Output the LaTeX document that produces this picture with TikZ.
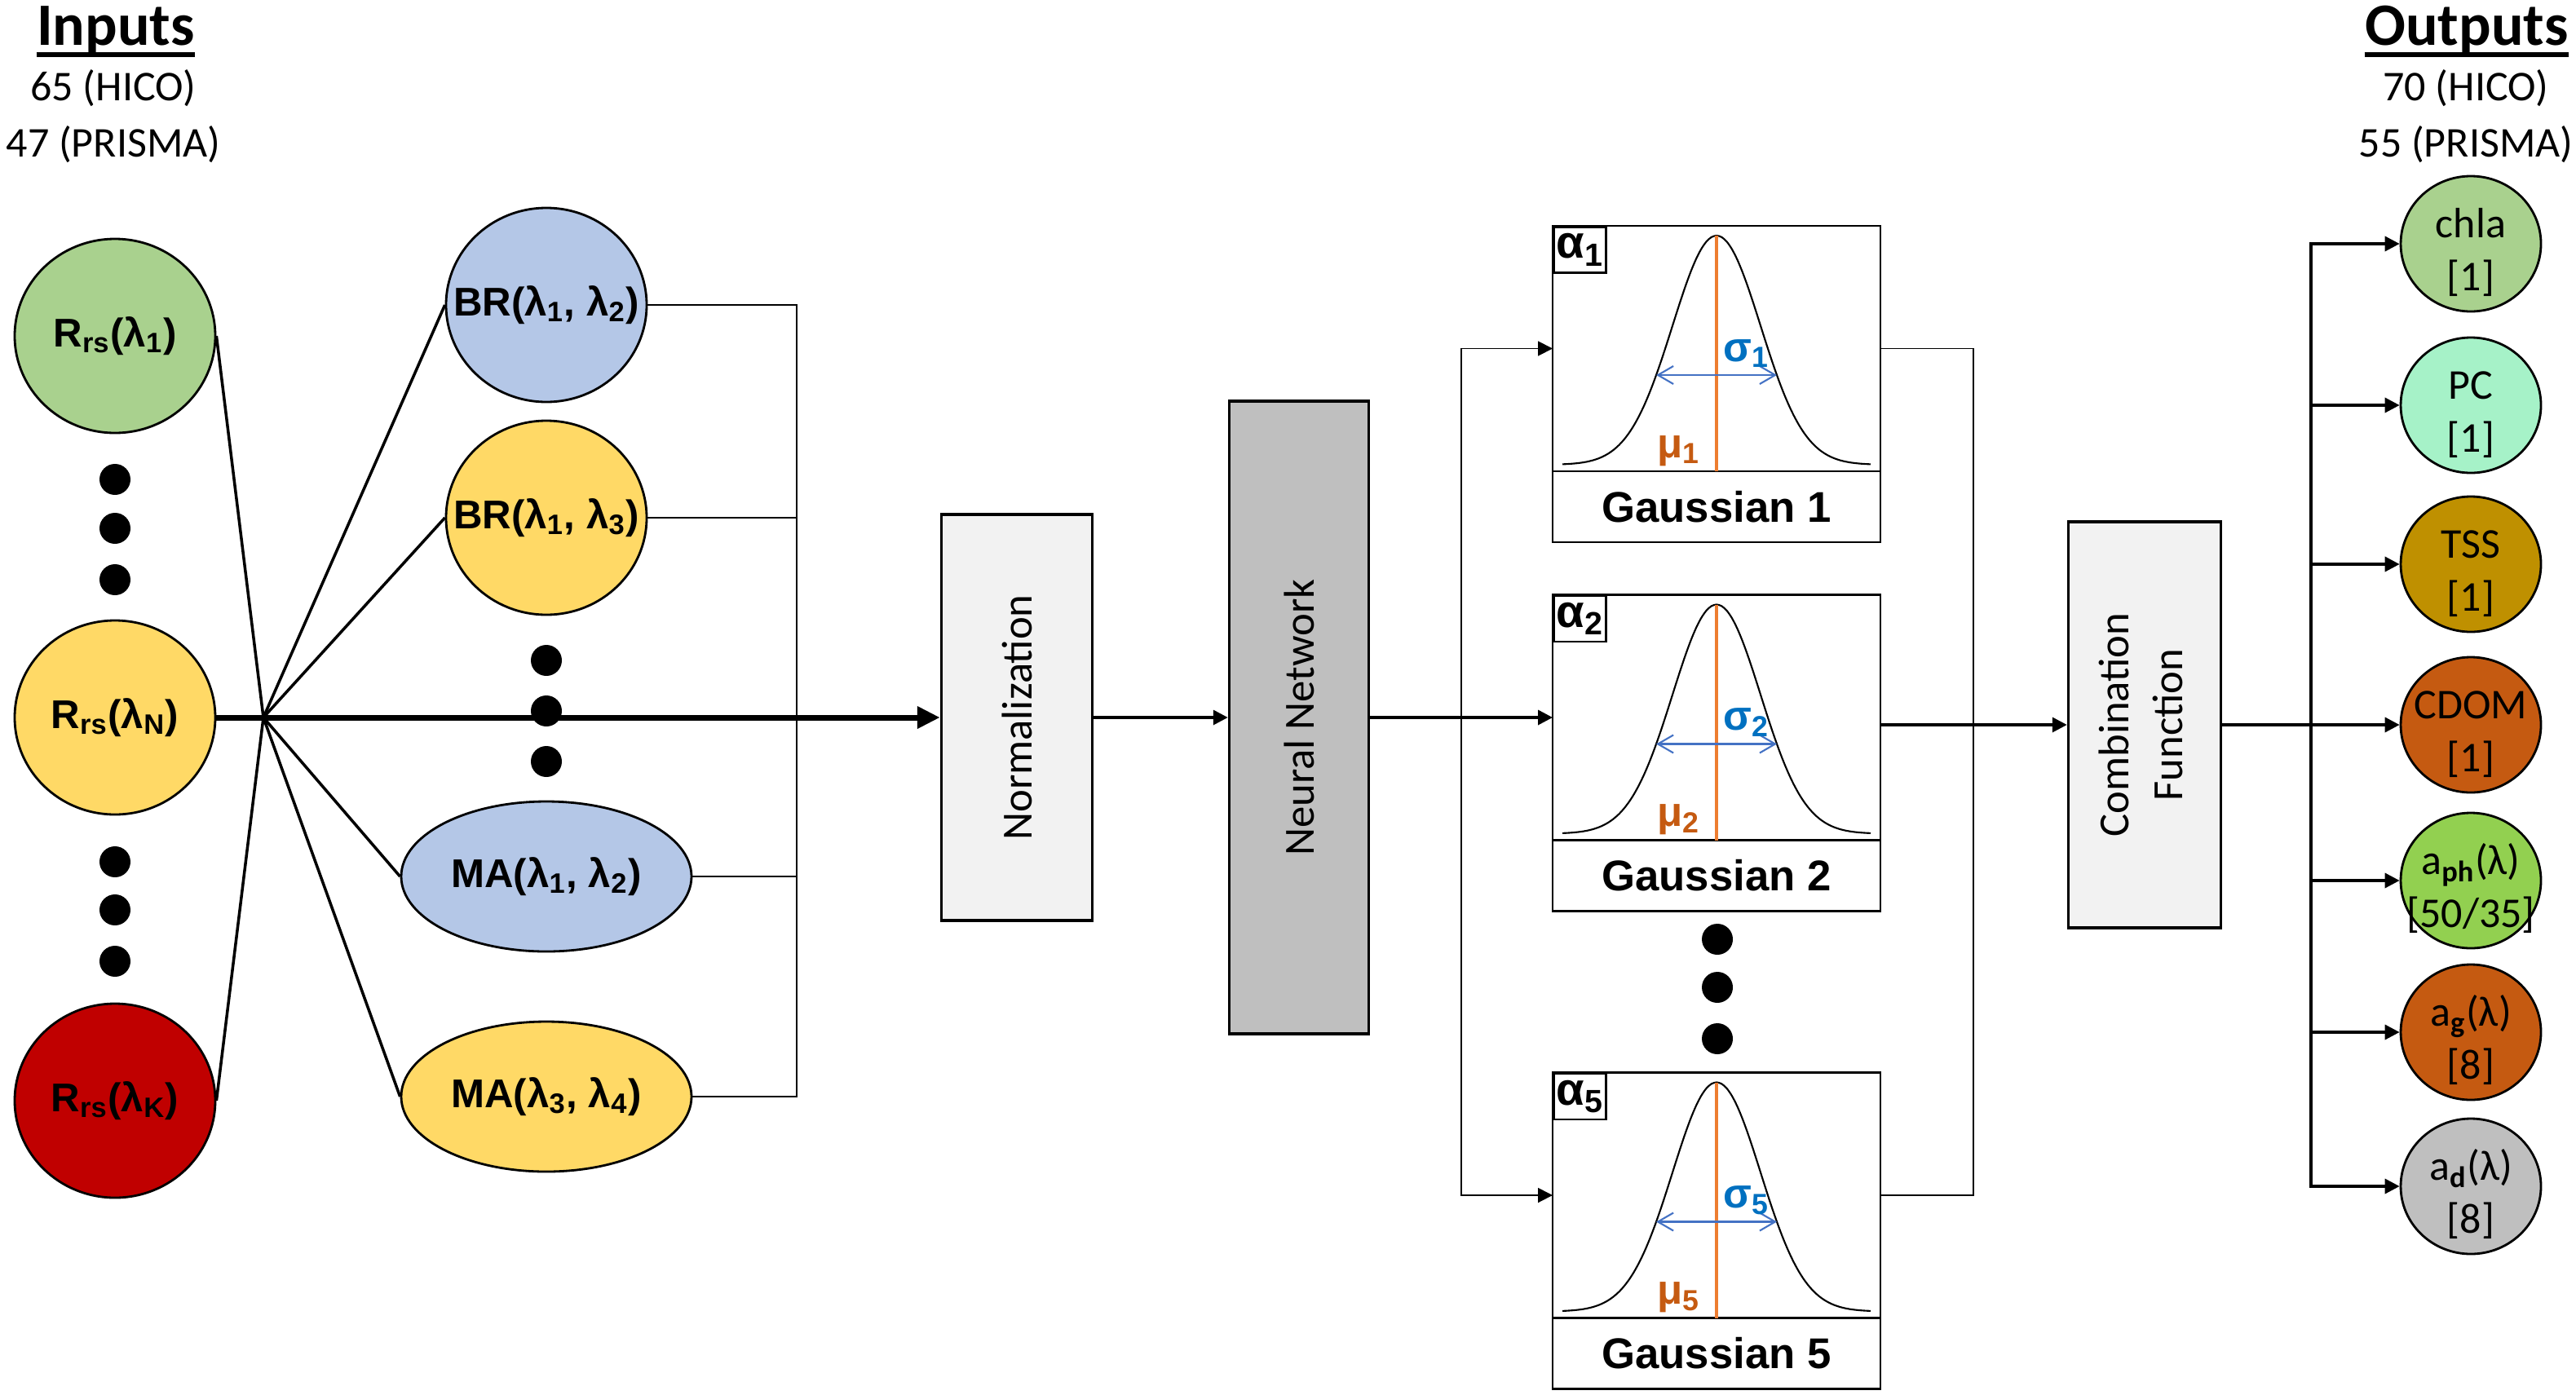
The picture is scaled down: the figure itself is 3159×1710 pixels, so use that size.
\documentclass[tikz,border=0pt]{standalone}
\usepackage{fontspec}
\setmainfont{Carlito}
\newfontfamily\arialfont{Liberation Sans}
\usepackage{graphicx}
\usetikzlibrary{shapes.geometric, arrows.meta, positioning}

\definecolor{rrsgreen}{HTML}{A9D18E}
\definecolor{rrsyellow}{HTML}{FFD966}
\definecolor{rrsred}{HTML}{C00000}
\definecolor{brblue}{HTML}{B4C7E7}
\definecolor{boxlight}{HTML}{F2F2F2}
\definecolor{nngrey}{HTML}{BFBFBF}
\definecolor{pcmint}{HTML}{A6F2C8}
\definecolor{tssgold}{HTML}{BF9000}
\definecolor{cdombrown}{HTML}{C55A11}
\definecolor{aphgreen}{HTML}{92D050}
\definecolor{muorange}{HTML}{ED7D31}
\definecolor{mutext}{HTML}{C55A11}
\definecolor{sigtext}{HTML}{0070C0}
\definecolor{sigblue}{HTML}{4472C4}

\tikzset{%
  title/.style={
    anchor=base,
    inner sep=0pt,
    font=\bfseries\fontsize{21}{25}\selectfont
  },
  counts/.style={
    anchor=base,
    inner sep=0pt,
    font=\fontsize{14.8}{18}\selectfont
  },
  every input/.style={
    ellipse,
    draw,
    line width=0.8pt,
    minimum width=24.6mm,
    minimum height=23.8mm,
    inner sep=-3mm,
    font=\arialfont\bfseries\fontsize{14}{16}\selectfont
  },
  input 1/.style={fill=rrsgreen},
  input N/.style={fill=rrsyellow},
  input K/.style={fill=rrsred},
  every feature/.style={
    ellipse,
    draw,
    line width=0.8pt,
    inner xsep=-3.5mm,
    inner ysep=-2mm,
    font=\arialfont\bfseries\fontsize{14}{16}\selectfont
  },
  feature round/.style={minimum width=24.6mm, minimum height=23.8mm},
  feature oval/.style={minimum width=35.6mm, minimum height=18.4mm},
  every block/.style={
    rectangle,
    draw,
    line width=1pt,
    inner sep=0pt,
    font=\fontsize{15}{19}\selectfont
  },
  every panel/.style={
    rectangle,
    draw,
    line width=0.8pt,
    minimum width=40.2mm,
    minimum height=30.1mm,
    inner sep=0pt,
    outer sep=0pt
  },
  every gauss label/.style={
    rectangle,
    draw,
    line width=0.8pt,
    minimum width=40.2mm,
    minimum height=8.7mm,
    inner sep=0pt,
    outer sep=0pt,
    font=\arialfont\bfseries\fontsize{15}{18}\selectfont
  },
  every alpha/.style={
    rectangle,
    draw,
    line width=0.8pt,
    anchor=north west,
    minimum width=5.7mm,
    minimum height=5.6mm,
    inner sep=0.3mm,
    font=\arialfont\bfseries\fontsize{16}{18}\selectfont
  },
  sigma label/.style={
    anchor=base west,
    inner sep=0pt,
    text=sigtext,
    font=\arialfont\bfseries\fontsize{14.5}{16}\selectfont
  },
  mu label/.style={
    anchor=base east,
    inner sep=0pt,
    text=mutext,
    font=\arialfont\bfseries\fontsize{14.5}{16}\selectfont
  },
  mu line/.style={draw=muorange, line width=1.4pt},
  sigma line/.style={
    draw=sigblue,
    line width=0.6pt,
    >={Straight Barb[length=1.9mm, width=2.2mm]},
    <->
  },
  every output/.style={
    ellipse,
    draw,
    line width=0.8pt,
    minimum width=17.2mm,
    minimum height=16.6mm,
    inner sep=-2mm,
    align=center,
    text height=12.3mm,
    font=\fontsize{14.8}{18.5}\selectfont
  },
  thick link/.style={line width=2pt},
  in link/.style={line width=1pt},
  link/.style={line width=1pt},
  thin link/.style={line width=0.5pt},
}

\begin{document}
\begin{tikzpicture}[x=0.1mm, y=-0.1mm, >={Triangle[length=1.8mm, width=1.8mm]}]

\useasboundingbox (0,0) rectangle (3159,1710);

% headers
\node [title] (inputs) at (142,55) {Inputs};
\node [counts] (inputs-hico) at (139,123) {65 (HICO)};
\node [counts] (inputs-prisma) at (139,192) {47 (PRISMA)};
\node [title] (outputs) at (3025,55) {Outputs};
\node [counts] (outputs-hico) at (3024,123) {70 (HICO)};
\node [counts] (outputs-prisma) at (3024,192) {55 (PRISMA)};

\foreach \t in {inputs, outputs}
  \draw [line width=1.6pt] ([yshift=-1.2mm]\t.base west) -- ([yshift=-1.2mm]\t.base east);

% inputs
\foreach \m/\y in {1/412, N/880, K/1350}
  \node [every input/.try, input \m/.try] (input-\m) at (141,\y)
    {R\textsubscript{rs}(λ\textsubscript{\m})};

\foreach \y in {588,648,711,1057,1116,1179}
  \fill (141,\y) circle (1.9mm);

% band ratios and indices
\foreach \m/\f/\c/\l/\y in {
    br1/round/brblue/{BR(λ\textsubscript{1}, λ\textsubscript{2})}/374,
    br2/round/rrsyellow/{BR(λ\textsubscript{1}, λ\textsubscript{3})}/635,
    ma1/oval/brblue/{MA(λ\textsubscript{1}, λ\textsubscript{2})}/1075,
    ma2/oval/rrsyellow/{MA(λ\textsubscript{3}, λ\textsubscript{4})}/1345}
  \node [every feature/.try, feature \f/.try, fill=\c] (\m) at (670,\y) {\l};

\foreach \y in {810,872,934}
  \fill (670,\y) circle (1.9mm);

% blocks
\node [every block/.try, fill=boxlight, minimum width=18.5mm, minimum height=49.8mm]
  (norm) at (1247,880) {\rotatebox{90}{Normalization}};
\node [every block/.try, fill=nngrey, minimum width=17.1mm, minimum height=77.6mm]
  (nn) at (1593,880) {\rotatebox{90}{Neural Network}};
\node [every block/.try, fill=boxlight, minimum width=18.7mm, minimum height=49.8mm]
  (comb) at (2630,889)
  {\rotatebox{90}{\begin{tabular}{@{}c@{}}Combination\\Function\end{tabular}}};

% gaussians
\foreach \i/\y in {1/427.5, 2/880, 5/1466} {
  \node [every panel/.try] (g\i) at (2105,\y) {};
  \node [every gauss label/.try, below=0pt of g\i] (gl\i) {Gaussian \i};
  \node [every alpha/.try] (ga\i) at (g\i.north west) {α\textsubscript{\i}};
  \draw [shift={(g\i.center)}, line width=0.6pt]
    plot [domain=-3.5:3.5, samples=61, smooth] ({54*\x}, {142.5-281*exp(-0.5*(\x)*(\x))});
  \draw [mu line] ([yshift=13.85mm]g\i.center) -- (g\i.south);
  \draw [sigma line] ([xshift=-7.4mm, yshift=-3.25mm]g\i.center)
    -- ([xshift=7.4mm, yshift=-3.25mm]g\i.center);
  \node [sigma label] (sig\i) at ([xshift=0.8mm, yshift=-1.55mm]g\i.center)
    {σ\textsubscript{\i}};
  \node [mu label] (mu\i) at ([xshift=-1.9mm, yshift=-13.35mm]g\i.center)
    {μ\textsubscript{\i}};
}

\foreach \y in {1152,1211,1274}
  \fill (2106,\y) circle (1.9mm);

% outputs
\foreach \l/\c/\y [count=\i] in {
    {chla\\{}[1]}/rrsgreen/299,
    {PC\\{}[1]}/pcmint/497,
    {TSS\\{}[1]}/tssgold/692,
    {CDOM\\{}[1]}/cdombrown/889,
    {a\textsubscript{\bfseries ph}(λ)\\{}[50/35]}/aphgreen/1080,
    {a\textsubscript{\bfseries g}(λ)\\{}[8]}/cdombrown/1266,
    {a\textsubscript{\bfseries d}(λ)\\{}[8]}/nngrey/1455}
  \node [every output/.try, fill=\c] (out-\i) at (3030,\y) {\l};

% connectors
\coordinate (hub) at (323,880);
\coordinate (fjoin) at (977,880);
\coordinate (gin) at (1792,880);
\coordinate (gout) at (2420,889);
\coordinate (obus) at (2834,889);

\foreach \m in {br1,br2,ma1,ma2}
  \draw [thin link] (\m.east) -| (fjoin);

\draw [thick link, -{Triangle[length=2.8mm, width=2.6mm]}] (input-N.east) -- (norm.west);

\foreach \m in {1,K}
  \draw [in link] (input-\m.east) -- (hub);

\foreach \m in {br1,br2,ma1,ma2}
  \draw [in link] (hub) -- (\m.west);

\draw [link, ->] (norm.east) -- (nn.west);
\draw [link, ->] (nn.east) -- (g2.west);

\foreach \i in {1,5}
  \draw [thin link, ->] (gin) |- (g\i.west);

\foreach \i in {1,5}
  \draw [thin link] (g\i.east) -| (gout);

\draw [link, ->] (g2.east |- comb.west) -- (comb.west);
\draw [link, ->] (comb.east) -- (out-4.west);

\foreach \i in {1,2,3,5,6,7}
  \draw [link, ->] (obus) |- (out-\i.west);

\end{tikzpicture}
\end{document}
